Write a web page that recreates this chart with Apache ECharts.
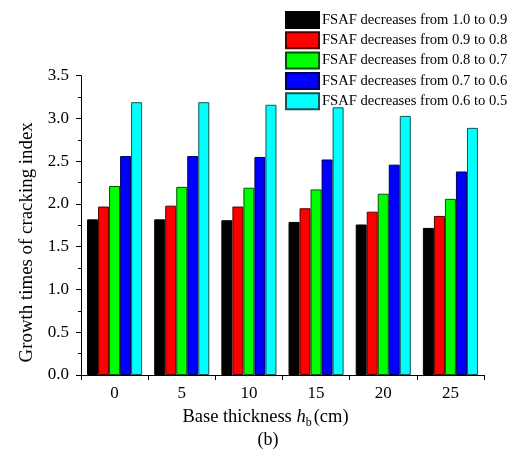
<!DOCTYPE html>
<html><head><meta charset="utf-8">
<script src="https://cdn.jsdelivr.net/npm/echarts@6/dist/echarts.min.js"></script>
<style>html,body{margin:0;padding:0;background:#fff}#c{width:512px;height:452px}</style>
</head><body><div id="c"></div>
<script>
const categories = ['0', '5', '10', '15', '20', '25'];
const seriesNames = [
  'FSAF decreases from 1.0 to 0.9',
  'FSAF decreases from 0.9 to 0.8',
  'FSAF decreases from 0.8 to 0.7',
  'FSAF decreases from 0.7 to 0.6',
  'FSAF decreases from 0.6 to 0.5'
];
const s1 = [1.82, 1.82, 1.81, 1.79, 1.76, 1.72];
const s2 = [1.97, 1.98, 1.97, 1.95, 1.91, 1.86];
const s3 = [2.21, 2.20, 2.19, 2.17, 2.12, 2.06];
const s4 = [2.56, 2.56, 2.55, 2.52, 2.46, 2.38];
const s5 = [3.19, 3.19, 3.16, 3.13, 3.03, 2.89];
const colors = ['#000000', '#ff0000', '#00ff00', '#0000ff', '#00ffff'];
const borders = ['#000000', '#550000', '#005500', '#000055', '#115555'];
const allData = [s1, s2, s3, s4, s5];
const font = '"Liberation Serif", "Times New Roman", serif';

const chart = echarts.init(document.getElementById('c'), null, {renderer: 'canvas'});
chart.setOption({
  animation: false,
  backgroundColor: '#fff',
  textStyle: {fontFamily: font, color: '#000'},
  title: {
    text: '(b)', left: 263, top: 426, textAlign: 'center',
    textStyle: {fontFamily: font, fontSize: 18, fontWeight: 'normal', color: '#000'}
  },
  legend: {
    orient: 'vertical', left: 285, top: 11, padding: 0,
    icon: 'rect',
    itemWidth: 33, itemHeight: 16, itemGap: 2.3,
    data: seriesNames,
    textStyle: {fontFamily: font, fontSize: 14.6, color: '#000', lineHeight: 16, padding: [0, 0, 0, -2]}
  },
  grid: {left: 81, right: 28, top: 75.7, bottom: 77, containLabel: false},
  xAxis: {
    type: 'category', data: categories, boundaryGap: true,
    axisLine: {lineStyle: {color: '#000', width: 1}},
    axisTick: {show: true, inside: false, length: 5, lineStyle: {color: '#000'}},
    axisLabel: {fontFamily: font, fontSize: 17, color: '#000', margin: 10},
    name: '{a|Base thickness }{i|h}{s|b}{a|(cm)}',
    nameLocation: 'middle', nameGap: 30,
    nameTextStyle: {
      padding: [0, 34, 0, 0],
      rich: {
        a: {fontFamily: font, fontSize: 18.5, color: '#000'},
        i: {fontFamily: font, fontSize: 18.5, fontStyle: 'italic', color: '#000'},
        s: {fontFamily: font, fontSize: 12, color: '#000', padding: [12, 2, 0, 0]}
      }
    }
  },
  yAxis: {
    type: 'value', min: 0, max: 3.5, interval: 0.5,
    axisLine: {show: true, lineStyle: {color: '#000', width: 1}},
    axisTick: {show: true, inside: false, length: 5, lineStyle: {color: '#000'}},
    minorTick: {show: true, splitNumber: 2, length: 3, lineStyle: {color: '#000'}},
    splitLine: {show: false},
    axisLabel: {fontFamily: font, fontSize: 17, color: '#000', margin: 12,
      formatter: v => v.toFixed(1)},
    name: 'Growth times of cracking index',
    nameLocation: 'middle', nameGap: 35, nameRotate: 90,
    nameTextStyle: {fontFamily: font, fontSize: 18.9, color: '#000', padding: [0, 34, 0, 0]}
  },
  series: allData.map((d, i) => ({
    name: seriesNames[i], type: 'bar', data: d,
    barGap: '0%', barCategoryGap: '18%',
    itemStyle: {color: colors[i], borderColor: borders[i], borderWidth: 1}
  }))
});
</script></body></html>
